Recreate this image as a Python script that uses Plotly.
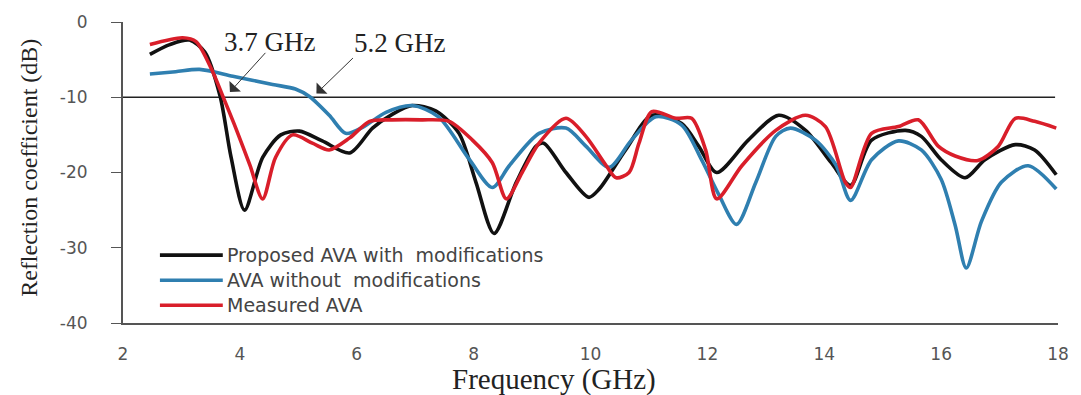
import plotly.graph_objects as go

# Reflection coefficient (dB) vs frequency (GHz)
freq_proposed = [2.46, 2.8, 3.14, 3.4, 3.66, 3.85, 4.08, 4.39, 4.7, 5.02, 5.41, 5.88, 6.27, 6.6, 6.95,
                 7.35, 7.75, 8.04, 8.35, 8.73, 9.07, 9.2, 9.58, 9.97, 10.15, 10.6, 11.05, 11.56, 11.85,
                 12.16, 12.7, 13.22, 13.68, 14.12, 14.45, 14.81, 15.39, 15.66, 16.0, 16.41, 16.75,
                 17.27, 17.6, 17.97]
s11_proposed = [-4.3, -3.0, -2.4, -4.0, -9.8, -18.0, -25.0, -18.0, -15.0, -14.5, -15.8, -17.4, -14.1,
                -12.3, -11.1, -11.8, -14.8, -21.3, -28.1, -21.3, -16.5, -16.1, -20.0, -23.3, -22.2,
                -17.0, -12.4, -13.5, -16.5, -20.0, -15.7, -12.4, -14.4, -18.7, -21.7, -15.7, -14.4,
                -15.2, -18.3, -20.7, -18.3, -16.3, -17.0, -20.3]

freq_original = [2.46, 2.9, 3.31, 3.88, 4.56, 4.95, 5.19, 5.53, 5.81, 6.1, 6.5, 6.95, 7.4, 7.93, 8.32,
                 8.61, 9.12, 9.58, 9.92, 10.32, 10.7, 11.12, 11.56, 11.9, 12.2, 12.5, 12.83, 13.17,
                 13.42, 13.85, 14.2, 14.45, 14.81, 15.27, 15.66, 16.0, 16.24, 16.43, 16.69, 17.03,
                 17.49, 17.97]
s11_original = [-6.9, -6.6, -6.3, -7.2, -8.3, -8.9, -9.9, -12.4, -14.8, -14.0, -12.0, -11.1, -12.6,
                -18.3, -22.0, -19.1, -14.8, -14.1, -16.5, -19.3, -15.7, -12.6, -13.7, -18.3, -23.0,
                -26.9, -21.3, -15.2, -14.1, -15.7, -19.0, -23.7, -18.3, -15.8, -17.0, -20.9, -27.0,
                -32.7, -26.5, -21.3, -19.1, -22.2]

freq_measured = [2.46, 3.02, 3.25, 3.54, 3.71, 3.93, 4.17, 4.39, 4.61, 4.9, 5.24, 5.53, 5.88, 6.22,
                 6.6, 7.1, 7.58, 7.98, 8.32, 8.56, 8.83, 9.12, 9.58, 9.92, 10.27, 10.44, 10.66, 10.83,
                 11.05, 11.46, 11.73, 11.97, 12.16, 12.59, 13.17, 13.68, 14.02, 14.36, 14.45, 14.81,
                 15.27, 15.61, 15.95, 16.24, 16.63, 16.98, 17.27, 17.6, 17.97]
s11_measured = [-3.0, -2.1, -2.6, -6.7, -9.9, -14.1, -19.0, -23.5, -18.0, -15.0, -16.1, -17.0, -15.4,
                -13.2, -13.0, -13.0, -13.2, -15.7, -18.7, -23.5, -20.0, -16.1, -12.8, -15.2, -19.1,
                -20.7, -20.0, -16.1, -11.9, -12.8, -12.8, -17.0, -23.5, -19.1, -14.4, -12.4, -13.9,
                -21.3, -22.0, -14.8, -13.9, -13.0, -16.5, -17.8, -18.4, -16.5, -12.8, -13.2, -14.1]

series_names = ["Proposed AVA with  modifications", "AVA without  modifications", "Measured AVA"]
series_colors = ["#111111", "#2f7fb0", "#d91e2a"]

x_ticks = [2, 4, 6, 8, 10, 12, 14, 16, 18]
y_ticks = [-40, -30, -20, -10, 0]
y_tick_text = ["-40", "-30", "-20", "-10", "0"]
threshold_db = -10
marked_freqs = ["3.7 GHz", "5.2 GHz"]

W, H = 1081, 395
L, R, T, B = 123, 21, 17, 72


def px(xp, yp):
    """Pixel position -> paper coordinates."""
    return (xp - L) / (W - L - R), (H - B - yp) / (H - T - B)


fig = go.Figure()
for xs, ys, name, color in zip(
    [freq_proposed, freq_original, freq_measured],
    [s11_proposed, s11_original, s11_measured],
    series_names, series_colors,
):
    fig.add_trace(go.Scatter(
        x=xs, y=ys, mode="lines", name=name,
        line=dict(color=color, width=3.6, shape="spline", smoothing=0.8),
        showlegend=False,
    ))

# -10 dB reference line
fig.add_shape(type="line", xref="x", yref="y", x0=2, x1=17.95, y0=threshold_db, y1=threshold_db,
              line=dict(color="#222222", width=1.6), layer="below")

# Arrows to the -10 dB crossings
arrows = [((3.83, -9.3), (4.46, -3.9)), ((5.31, -9.5), (5.96, -4.6))]
for (tx, ty), (ax_, ay_) in arrows:
    fig.add_annotation(x=tx, y=ty, ax=ax_, ay=ay_, xref="x", yref="y", axref="x", ayref="y",
                       text="", showarrow=True, arrowhead=1, arrowsize=2.6, arrowwidth=1,
                       arrowcolor="#333333")

for label, (cx, cy) in zip(marked_freqs, [(270, 37), (400, 38)]):
    xp_, yp_ = px(cx, cy)
    fig.add_annotation(x=xp_, y=yp_, xref="paper", yref="paper", text=label, showarrow=False,
                       font=dict(family="Liberation Serif", size=27, color="#222222"),
                       xanchor="center", yanchor="middle")

# Legend drawn as line samples with labels
for i, (name, color) in enumerate(zip(series_names, series_colors)):
    yrow = 254 + i * 25.5
    x0, y0 = px(160, yrow)
    x1, _ = px(223, yrow)
    fig.add_shape(type="line", xref="paper", yref="paper", x0=x0, x1=x1, y0=y0, y1=y0,
                  line=dict(color=color, width=3.6))
    tx, ty = px(225, yrow)
    fig.add_annotation(x=tx, y=ty, xref="paper", yref="paper", text=name, showarrow=False,
                       xanchor="left", yanchor="middle",
                       font=dict(family="DejaVu Sans", size=19, color="#444444"))

# Axis titles
xt, yt = px(555, 380)
fig.add_annotation(x=xt, y=yt, xref="paper", yref="paper", text="Frequency (GHz)", showarrow=False,
                   font=dict(family="Liberation Serif", size=29, color="#222222"),
                   xanchor="center", yanchor="middle")
xt, yt = px(28, 165)
fig.add_annotation(x=xt, y=yt, xref="paper", yref="paper", text="Reflection coefficient (dB)",
                   showarrow=False, textangle=-90,
                   font=dict(family="Liberation Serif", size=24, color="#222222"),
                   xanchor="center", yanchor="middle")

fig.update_layout(
    width=W, height=H,
    margin=dict(l=L, r=R, t=T, b=B),
    paper_bgcolor="white", plot_bgcolor="white",
    showlegend=False,
)
fig.update_xaxes(range=[2, 18], tickvals=x_ticks, ticks="", showgrid=False, zeroline=False,
                 showline=True, linecolor="#555555", linewidth=2, ticklabelstandoff=15,
                 tickfont=dict(family="DejaVu Sans", size=17, color="#555555"))
fig.update_yaxes(range=[-40, 0], tickvals=y_ticks, ticktext=y_tick_text, ticks="outside",
                 ticklen=10, tickwidth=1, tickcolor="#555555", showgrid=False, zeroline=False,
                 showline=True, linecolor="#555555", linewidth=2, ticklabelstandoff=20,
                 tickfont=dict(family="DejaVu Sans", size=17, color="#555555"))

fig.write_html("out.html")
